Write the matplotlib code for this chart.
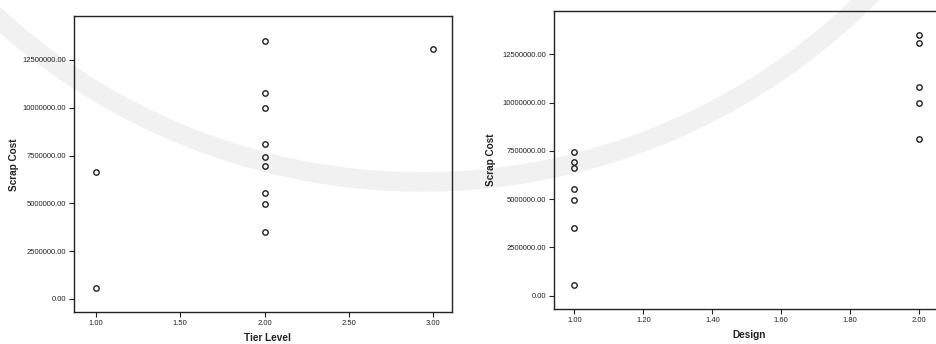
import numpy as np
import matplotlib.pyplot as plt
from matplotlib.patches import Arc

plt.rcParams.update({
    'font.family': ['Liberation Sans', 'DejaVu Sans'],
    'font.size': 5.5,
})

# one row per observation
tier_level = [1, 1, 2, 2, 2, 2, 2, 2, 2, 2, 2, 3]
design = [1, 1, 2, 2, 2, 2, 1, 1, 1, 1, 1, 2]
scrap_cost = [6630000, 570000, 13500000, 10780000, 9990000, 8100000,
              7420000, 6940000, 5540000, 4960000, 3500000, 13060000]

cost_ticks = [0, 2500000, 5000000, 7500000, 10000000, 12500000]
tier_ticks = [1.0, 1.5, 2.0, 2.5, 3.0]
design_ticks = [1.0, 1.2, 1.4, 1.6, 1.8, 2.0]

W, H = 936, 344
fig = plt.figure(figsize=(W / 100, H / 100), dpi=100)
fig.patch.set_facecolor('white')

# faint page watermark arc behind the plots (pixel coords, y down)
bg = fig.add_axes([0, 0, 1, 1], zorder=-1)
bg.set_xlim(0, W)
bg.set_ylim(H, 0)
bg.axis('off')
bg.add_patch(Arc((422, -449), 2 * 631, 2 * 631, theta1=0, theta2=180,
                 color='#f1f1f1', lw=14))


def scatter_panel(rect, x, xticks, xlim, ylim, xlabel, xlabel_pos, ylabel_pos):
    ax = fig.add_axes(rect)
    ax.set_facecolor('none')
    ax.plot(x, scrap_cost, 'o', ms=3.9, mfc='none', mec='#222222', mew=1.0)
    ax.set_xlim(*xlim)
    ax.set_ylim(*ylim)
    ax.set_xticks(xticks)
    ax.set_xticklabels([f'{t:.2f}' for t in xticks])
    ax.set_yticks(cost_ticks)
    ax.set_yticklabels([f'{t:.2f}' for t in cost_ticks])
    ax.tick_params(direction='out', length=3.5, width=0.8, pad=2,
                   colors='#222222', labelsize=5.5)
    for s in ax.spines.values():
        s.set_linewidth(1.0)
        s.set_color('#222222')
    fig.text(xlabel_pos[0] / W, 1 - xlabel_pos[1] / H, xlabel,
             ha='center', va='center', fontsize=7.2, fontweight='bold',
             color='#222222')
    fig.text(ylabel_pos[0] / W, 1 - ylabel_pos[1] / H, 'Scrap Cost',
             ha='center', va='center', rotation=90, fontsize=7.2,
             fontweight='bold', color='#222222')
    return ax


scatter_panel([74 / W, 1 - 312 / H, 378 / W, 296 / H], tier_level, tier_ticks,
              (0.872, 3.11), (-680000, 14800000), 'Tier Level',
              (267, 338), (14, 165))
scatter_panel([554 / W, 1 - 309 / H, 385 / W, 298 / H], design, design_ticks,
              (0.941, 2.057), (-690000, 14740000), 'Design',
              (749, 335), (491, 160))

fig.savefig('out.png', dpi=100)
